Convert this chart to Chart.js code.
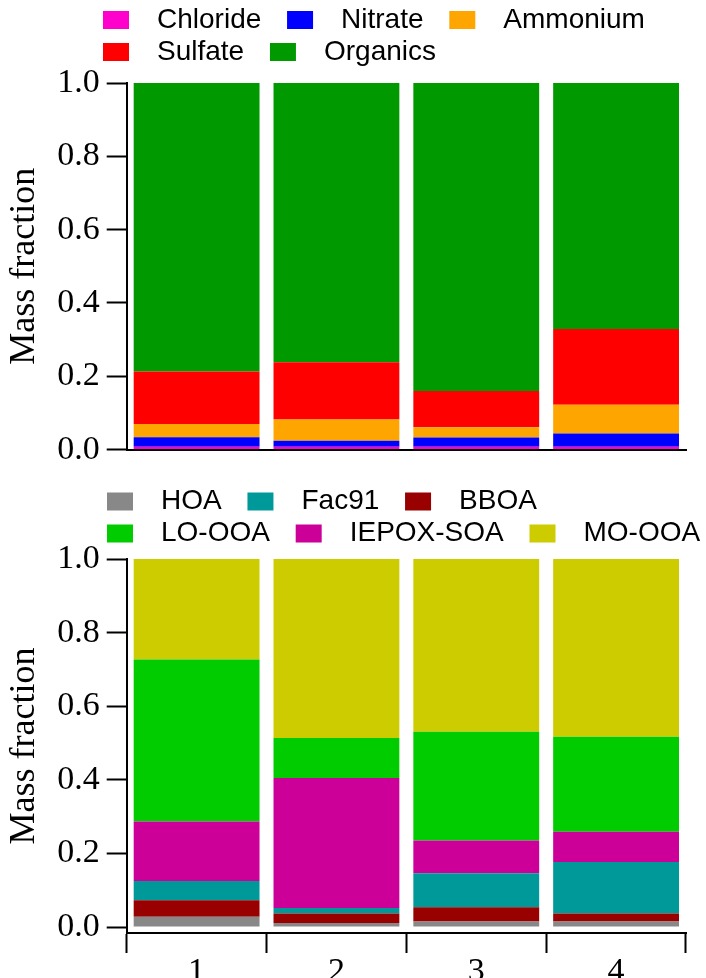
<!DOCTYPE html>
<html>
<head>
<meta charset="utf-8">
<script src="https://cdn.jsdelivr.net/npm/chart.js@4.4.0/dist/chart.umd.min.js"></script>
<style>
  html, body { margin: 0; padding: 0; background: #fff; overflow: hidden; }
  #top { position: absolute; left: 0; top: 0; width: 706px; height: 477px; }
  #bottom { position: absolute; left: 0; top: 470px; width: 706px; height: 521px; }
</style>
</head>
<body>
<div id="top"><canvas id="bulk"></canvas></div>
<div id="bottom"><canvas id="factors"></canvas></div>
<script>
const periods = ["1", "2", "3", "4"];
const yTicks = [0, 0.2, 0.4, 0.6, 0.8, 1.0];

// bulk PM1 composition, stacked bottom -> top
const chloride = [0.008, 0.008, 0.008, 0.008];
const nitrate = [0.026, 0.016, 0.025, 0.036];
const ammonium = [0.036, 0.058, 0.028, 0.078];
const sulfate = [0.143, 0.156, 0.099, 0.207];
const organics = [0.787, 0.762, 0.840, 0.671];

// OA factors, stacked bottom -> top
const hoa = [0.028, 0.011, 0.015, 0.015];
const bboa = [0.045, 0.026, 0.039, 0.022];
const fac91 = [0.052, 0.015, 0.092, 0.140];
const iepoxSoa = [0.162, 0.353, 0.089, 0.082];
const loOoa = [0.440, 0.109, 0.296, 0.258];
const moOoa = [0.273, 0.486, 0.469, 0.483];

const factorLegendOrder = ["HOA", "Fac91", "BBOA", "LO-OOA", "IEPOX-SOA", "MO-OOA"];

const serif = "'Liberation Serif', 'Times New Roman', serif";
const sans = "'Liberation Sans', Arial, sans-serif";

// move the legend block so it starts over the plot instead of the canvas edge
const legendShift = {
  id: "legendShift",
  afterLayout(chart, args, opts) {
    const lg = chart.legend;
    lg.left = opts.left;
    lg.right = opts.right;
    lg.top = opts.top;
  }
};

function ds(label, data, color) {
  return { label: label, data: data, backgroundColor: color, borderWidth: 0,
           barPercentage: 0.9, categoryPercentage: 1.0 };
}

function legendOpts(sortFn) {
  return {
    position: "top",
    align: "start",
    labels: {
      boxWidth: 26,
      boxHeight: 18,
      padding: 4,
      color: "#000",
      font: { family: sans, size: 28 },
      sort: sortFn,
      generateLabels(chart) {
        const items = Chart.defaults.plugins.legend.labels.generateLabels(chart);
        items.forEach(it => { it.text = "\u2002" + it.text + "\u2002 "; });
        return items;
      }
    }
  };
}

function yAxis(min) {
  return {
    stacked: true,
    min: min,
    max: 1,
    afterBuildTicks: axis => { axis.ticks = yTicks.map(v => ({ value: v })); },
    grid: { drawOnChartArea: false, drawTicks: true, tickLength: 20, tickWidth: 2, tickColor: "#000" },
    border: { display: true, color: "#000", width: 2 },
    ticks: { color: "#000", padding: 7, font: { family: serif, size: 34 },
             callback: v => v.toFixed(1) },
    title: { display: true, text: "Mass fraction", color: "#000",
             font: { family: serif, size: 36 }, padding: { top: 0, bottom: 4 } }
  };
}

new Chart(document.getElementById("bulk"), {
  type: "bar",
  data: {
    labels: periods,
    datasets: [
      ds("Chloride", chloride, "#ff00cc"),
      ds("Nitrate", nitrate, "#0000ff"),
      ds("Ammonium", ammonium, "#ffa500"),
      ds("Sulfate", sulfate, "#ff0000"),
      ds("Organics", organics, "#009900")
    ]
  },
  plugins: [legendShift],
  options: {
    responsive: true,
    maintainAspectRatio: false,
    animation: false,
    layout: { padding: { left: 3, right: 20, top: 9, bottom: 12 } },
    plugins: {
      legend: legendOpts(),
      legendShift: { left: 99, right: 740, top: 2 },
      tooltip: { enabled: false }
    },
    scales: {
      x: {
        stacked: true,
        grid: { display: false },
        ticks: { display: false },
        border: { display: true, color: "#000", width: 2 }
      },
      y: yAxis(0)
    }
  }
});

new Chart(document.getElementById("factors"), {
  type: "bar",
  data: {
    labels: periods,
    datasets: [
      ds("HOA", hoa, "#888888"),
      ds("BBOA", bboa, "#990000"),
      ds("Fac91", fac91, "#009999"),
      ds("IEPOX-SOA", iepoxSoa, "#cc0099"),
      ds("LO-OOA", loOoa, "#00cc00"),
      ds("MO-OOA", moOoa, "#cccc00")
    ]
  },
  plugins: [legendShift],
  options: {
    responsive: true,
    maintainAspectRatio: false,
    animation: false,
    layout: { padding: { left: 3, right: 20, top: 15, bottom: 0 } },
    plugins: {
      legend: legendOpts((a, b, data) =>
        factorLegendOrder.indexOf(data.datasets[a.datasetIndex].label) -
        factorLegendOrder.indexOf(data.datasets[b.datasetIndex].label)),
      legendShift: { left: 103, right: 740, top: 13.5 },
      tooltip: { enabled: false }
    },
    scales: {
      x: {
        stacked: true,
        grid: { display: true, offset: true, drawOnChartArea: false, tickLength: 20,
                tickWidth: 2, tickColor: "#000" },
        border: { display: true, color: "#000", width: 2 },
        ticks: { color: "#000", padding: 2, font: { family: serif, size: 34, lineHeight: 1 } }
      },
      y: yAxis(-0.016)
    }
  }
});
</script>
</body>
</html>
